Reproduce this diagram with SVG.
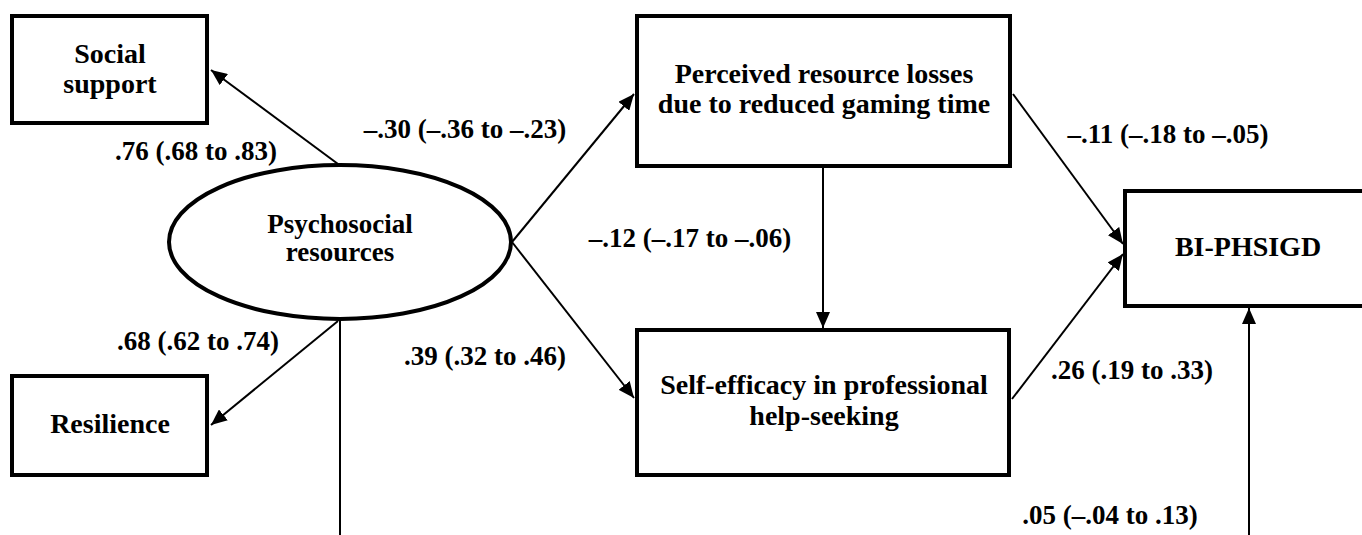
<svg xmlns="http://www.w3.org/2000/svg" width="1362" height="535" viewBox="0 0 1362 535">
<style>
.box{fill:#fff;stroke:#000;stroke-width:4}
text{font-family:'Liberation Serif','Times New Roman',Times,serif;font-weight:bold;fill:#000;text-anchor:middle}
.t{font-size:28px}
.lbl{font-size:27px}
.c{stroke:#000;stroke-width:2;fill:none}
</style>
<defs>
<marker id="ah" markerUnits="userSpaceOnUse" markerWidth="18" markerHeight="14" refX="16" refY="7" orient="auto">
<path d="M0,0 L16,7 L0,14 Z" fill="#000"/>
</marker>
</defs>
<rect width="1362" height="535" fill="#fff"/>
<g id="connectors">
<line class="c" x1="338" y1="164" x2="211" y2="70" marker-end="url(#ah)"/>
<line class="c" x1="338" y1="321" x2="211" y2="425" marker-end="url(#ah)"/>
<line class="c" x1="512" y1="242" x2="634" y2="94" marker-end="url(#ah)"/>
<line class="c" x1="512" y1="242" x2="634" y2="398" marker-end="url(#ah)"/>
<line class="c" x1="823" y1="168" x2="823" y2="328" marker-end="url(#ah)"/>
<line class="c" x1="1013" y1="94" x2="1123" y2="244" marker-end="url(#ah)"/>
<line class="c" x1="1012" y1="399" x2="1123" y2="254" marker-end="url(#ah)"/>
<line class="c" x1="1249" y1="535" x2="1249" y2="308" marker-end="url(#ah)"/>
<line class="c" x1="340" y1="321" x2="340" y2="535"/>
</g>
<g id="social">
<rect class="box" x="12" y="16" width="195" height="107"/>
<text class="t" x="110" y="63">Social</text>
<text class="t" x="110" y="93">support</text>
</g>
<g id="resilience">
<rect class="box" x="12" y="376" width="195" height="99"/>
<text class="t" x="110" y="433">Resilience</text>
</g>
<g id="psychosocial">
<ellipse class="box" cx="340" cy="242" rx="171" ry="77"/>
<text class="t" x="340" y="233" style="font-size:27px">Psychosocial</text>
<text class="t" x="340" y="261" style="font-size:27px">resources</text>
</g>
<g id="perceived">
<rect class="box" x="637" y="16" width="373" height="150"/>
<text class="t" x="824" y="83">Perceived resource losses</text>
<text class="t" x="824" y="113">due to reduced gaming time</text>
</g>
<g id="selfefficacy">
<rect class="box" x="637" y="330" width="372" height="145"/>
<text class="t" x="824" y="394">Self-efficacy in professional</text>
<text class="t" x="824" y="425">help-seeking</text>
</g>
<g id="bi">
<rect class="box" x="1125" y="191" width="250" height="115"/>
<text class="t" x="1248" y="256">BI-PHSIGD</text>
</g>
<g id="labels">
<text class="lbl" x="196" y="160">.76 (.68 to .83)</text>
<text class="lbl" x="465" y="138">–.30 (–.36 to –.23)</text>
<text class="lbl" x="198" y="350">.68 (.62 to .74)</text>
<text class="lbl" x="485" y="365">.39 (.32 to .46)</text>
<text class="lbl" x="690" y="247">–.12 (–.17 to –.06)</text>
<text class="lbl" x="1168" y="143">–.11 (–.18 to –.05)</text>
<text class="lbl" x="1132" y="379">.26 (.19 to .33)</text>
<text class="lbl" x="1110" y="524">.05 (–.04 to .13)</text>
</g>
</svg>
